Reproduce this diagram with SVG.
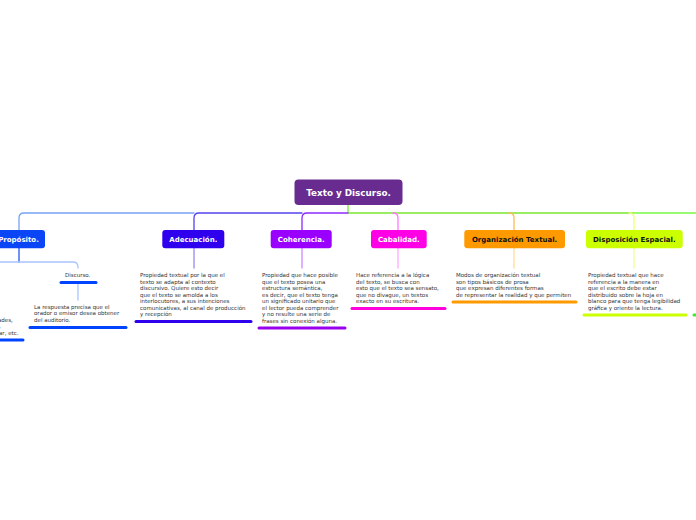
<svg xmlns="http://www.w3.org/2000/svg" width="696" height="520" viewBox="0 0 696 520">
<style>
.lnk{fill:none;stroke-width:1.3;stroke-linecap:round}
.lbl{font-family:"DejaVu Sans",Verdana,sans-serif;font-weight:bold;font-size:7px;text-anchor:middle}
.root{font-family:"DejaVu Sans",Verdana,sans-serif;font-weight:bold;font-size:8.8px;text-anchor:middle;fill:#fff}
.body{font-family:"DejaVu Sans",Verdana,sans-serif;font-size:5.5px;fill:#333}
.bar{stroke-width:3;stroke-linecap:round;fill:none}
</style>
<rect width="696" height="520" fill="#fff"/>
<g id="connectors">
  <path class="lnk" stroke="#7be830" d="M348,205 V213 H696"/>
  <path class="lnk" stroke="#99ff77" d="M634,213 H696"/>
  <path class="lnk" stroke="#eeff77" d="M629,213 Q634,213 634,218 V230"/>
  <path class="lnk" stroke="#ffbb55" d="M509,213 Q514,213 514,218 V230"/>
  <path class="lnk" stroke="#ff77ff" d="M393,213 Q398,213 398,218 V230"/>
  <path class="lnk" stroke="#8a2bff" d="M348,213 H307 Q302,213 302,218 V230"/>
  <path class="lnk" stroke="#5544ee" d="M302,213 H199 Q194,213 194,218 V230"/>
  <path class="lnk" stroke="#77a3f2" d="M194,213 H24 Q19,213 19,218 V230"/>
  <path class="lnk" stroke="#9988ee" d="M194,248 V268"/>
  <path class="lnk" stroke="#cc88ff" d="M302,248 V268"/>
  <path class="lnk" stroke="#ffaaff" d="M398,248 V268"/>
  <path class="lnk" stroke="#ffdd99" d="M514,248 V268"/>
  <path class="lnk" stroke="#eeff99" d="M634,248 V268"/>
  <path class="lnk" stroke="#2255ee" d="M19,248 V262"/>
  <path class="lnk" stroke="#aac4ff" d="M0,262 H73 Q78,262 78,267 V268"/>
  <path class="lnk" stroke="#aac4ff" d="M78,284 V300"/>
</g>
<g id="root">
  <rect x="294.5" y="179.5" width="108" height="25.5" rx="4" fill="#682c91"/>
  <text class="root" x="348.5" y="195.5">Texto y Discurso.</text>
</g>
<g id="proposito">
  <rect x="-8" y="230" width="53" height="18.3" rx="3" fill="#0a46f5"/>
  <text class="lbl" x="18.5" y="241.5" fill="#fff">Propósito.</text>
</g>
<g id="adecuacion">
  <rect x="162.3" y="230" width="62" height="18.3" rx="3" fill="#2e00ee"/>
  <text class="lbl" x="193.3" y="241.5" fill="#fff">Adecuación.</text>
  <text class="body" x="140" y="277">
    <tspan x="140" y="277">Propiedad textual por la que el</tspan>
    <tspan x="140" y="283.5">texto se adapta al contexto</tspan>
    <tspan x="140" y="290">discursivo. Quiere esto decir</tspan>
    <tspan x="140" y="296.5">que el texto se amolda a los</tspan>
    <tspan x="140" y="303">interlocutores, a sus intenciones</tspan>
    <tspan x="140" y="309.5">comunicativas, al canal de producción</tspan>
    <tspan x="140" y="316">y recepción</tspan>
  </text>
  <path class="bar" stroke="#2e00ee" d="M136,321.5 H251"/>
</g>
<g id="coherencia">
  <rect x="270.7" y="230" width="61" height="18.3" rx="3" fill="#9900ff"/>
  <text class="lbl" x="301.2" y="241.5" fill="#fff">Coherencia.</text>
  <text class="body">
    <tspan x="262" y="277">Propiedad que hace posible</tspan>
    <tspan x="262" y="283.5">que el texto posea una</tspan>
    <tspan x="262" y="290">estructura semántica,</tspan>
    <tspan x="262" y="296.5">es decir, que el texto tenga</tspan>
    <tspan x="262" y="303">un significado unitario que</tspan>
    <tspan x="262" y="309.5">el lector pueda comprender</tspan>
    <tspan x="262" y="316">y no resulte una serie de</tspan>
    <tspan x="262" y="322.5">frases sin conexión alguna.</tspan>
  </text>
  <path class="bar" stroke="#9900ee" d="M259,328 H345"/>
</g>
<g id="cabalidad">
  <rect x="371" y="230" width="55.7" height="18.3" rx="3" fill="#ff00e6"/>
  <text class="lbl" x="398.8" y="241.5" fill="#fff">Cabalidad.</text>
  <text class="body">
    <tspan x="356" y="277">Hace referencia a la lógica</tspan>
    <tspan x="356" y="283.5">del texto, se busca con</tspan>
    <tspan x="356" y="290">esto que el texto sea sensato,</tspan>
    <tspan x="356" y="296.5">que no divague, un textos</tspan>
    <tspan x="356" y="303">exacto en su escritura.</tspan>
  </text>
  <path class="bar" stroke="#ff00dd" d="M352,308.5 H445"/>
</g>
<g id="organizacion">
  <rect x="464.3" y="230" width="100.7" height="18.3" rx="3" fill="#ff9900"/>
  <text class="lbl" x="514.6" y="241.5" fill="#111">Organización Textual.</text>
  <text class="body">
    <tspan x="456" y="277">Modos de organización textual</tspan>
    <tspan x="456" y="283.5">son tipos básicos de prosa</tspan>
    <tspan x="456" y="290">que expresan diferentes formas</tspan>
    <tspan x="456" y="296.5">de representar la realidad y que permiten</tspan>
  </text>
  <path class="bar" stroke="#ff9900" d="M453,302 H576"/>
</g>
<g id="disposicion">
  <rect x="586" y="230" width="96.7" height="18.3" rx="3" fill="#ccff00"/>
  <text class="lbl" x="634.3" y="241.5" fill="#111">Disposición Espacial.</text>
  <text class="body">
    <tspan x="588" y="277">Propiedad textual que hace</tspan>
    <tspan x="588" y="283.5">referencia a la manera en</tspan>
    <tspan x="588" y="290">que el escrito debe estar</tspan>
    <tspan x="588" y="296.5">distribuido sobre la hoja en</tspan>
    <tspan x="588" y="303">blanco para que tenga legibilidad</tspan>
    <tspan x="588" y="309.5">gráfica y oriente la lectura.</tspan>
  </text>
  <path class="bar" stroke="#ccff00" d="M584,315 H686"/>
  <path class="bar" stroke="#33ee33" d="M694,315 H698"/>
</g>
<g id="discurso">
  <text class="body" x="65" y="276.5">Discurso.</text>
  <path class="bar" stroke="#0044ff" d="M61,282.5 H96"/>
  <text class="body">
    <tspan x="34" y="308.5">La respuesta precisa que el</tspan>
    <tspan x="34" y="315">orador o emisor desea obtener</tspan>
    <tspan x="34" y="321.5">del auditorio.</tspan>
  </text>
  <path class="bar" stroke="#0044ff" d="M30,327.5 H126"/>
</g>
<g id="left-node">
  <text class="body">
    <tspan x="-2" y="322">ades,</tspan>
    <tspan x="-1" y="328.3">,</tspan>
    <tspan x="-1" y="334.5">ar, etc.</tspan>
  </text>
  <path class="bar" stroke="#0044ff" d="M-2,340 H23"/>
</g>
</svg>
